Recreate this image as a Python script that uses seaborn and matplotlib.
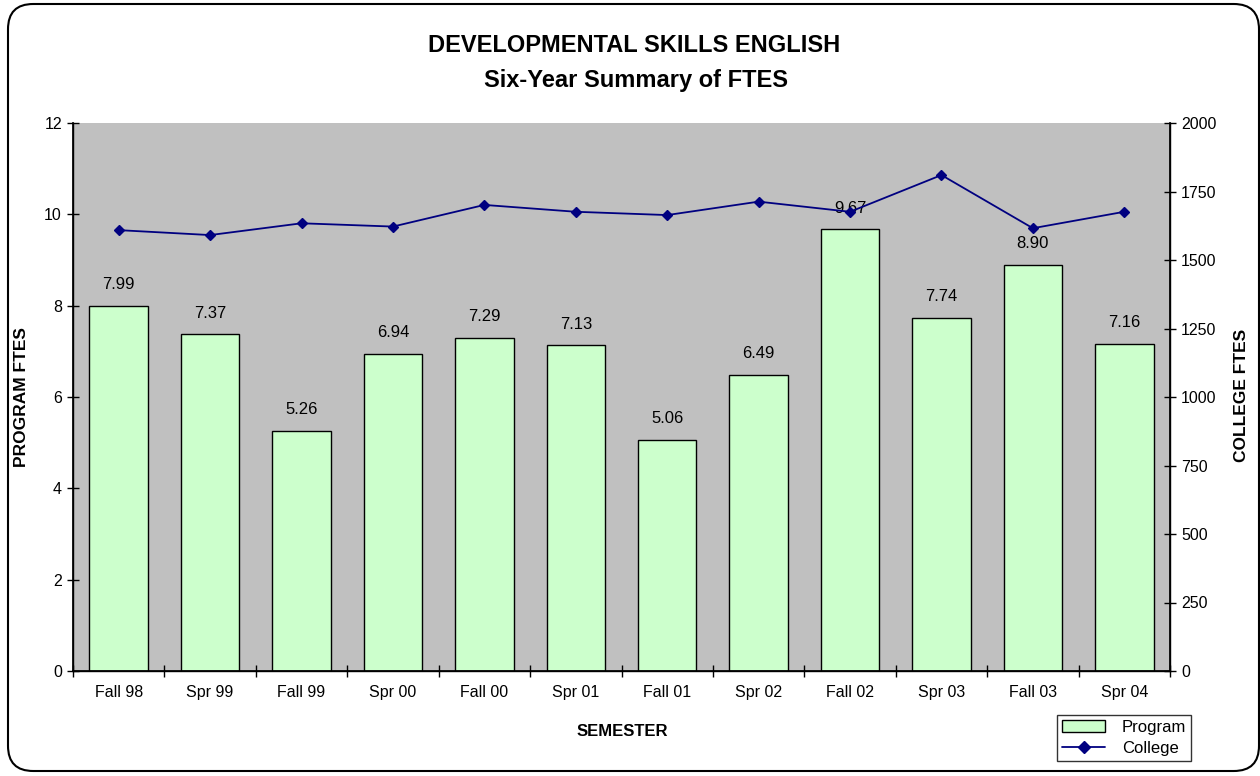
import matplotlib
matplotlib.use("Agg")
import matplotlib.pyplot as plt
import seaborn as sns
import numpy as np
from matplotlib.patches import FancyBboxPatch, Patch
from matplotlib.lines import Line2D

semesters = ["Fall 98", "Spr 99", "Fall 99", "Spr 00", "Fall 00", "Spr 01",
             "Fall 01", "Spr 02", "Fall 02", "Spr 03", "Fall 03", "Spr 04"]
program_ftes = [7.99, 7.37, 5.26, 6.94, 7.29, 7.13, 5.06, 6.49, 9.67, 7.74, 8.90, 7.16]
college_ftes = [1609, 1591, 1634, 1622, 1701, 1676, 1664, 1713, 1676, 1810, 1616, 1676]
left_ticks = [0, 2, 4, 6, 8, 10, 12]
right_ticks = [0, 250, 500, 750, 1000, 1250, 1500, 1750, 2000]

sns.set_theme(style="white")
plt.rcParams['font.family'] = ['Liberation Sans', 'DejaVu Sans']
plt.rcParams['text.color'] = 'black'
plt.rcParams['xtick.color'] = 'black'
plt.rcParams['ytick.color'] = 'black'
plt.rcParams['axes.labelcolor'] = 'black'

W, H = 1260, 776
fig = plt.figure(figsize=(W / 100, H / 100), dpi=100)

# rounded outer frame
frame = FancyBboxPatch((8 / W, 5 / H), (1251 / W), (767 / H),
                       boxstyle="round,pad=0,rounding_size=0.02",
                       transform=fig.transFigure, facecolor="none",
                       edgecolor="black", linewidth=1.5, mutation_aspect=W / H,
                       zorder=10)
fig.patches.append(frame)

ax = fig.add_axes([73 / W, 1 - 671 / H, (1170 - 73) / W, (671 - 123) / H])
ax.set_facecolor("#C0C0C0")

sns.barplot(x=semesters, y=program_ftes, ax=ax, color="#CCFFCC",
            edgecolor="black", linewidth=1.0, width=0.64, saturation=1)
for cont in ax.containers:
    ax.bar_label(cont, fmt="%.2f", padding=10, fontsize=12, color="black")

ax.set_ylim(0, 12)
ax.set_xlim(-0.5, len(semesters) - 0.5)
ax.set_yticks(left_ticks)
ax.set_yticklabels([str(t) for t in left_ticks], fontsize=11.5)
ax.set_xticks(range(len(semesters)))
ax.set_xticklabels(semesters, fontsize=11.5)
ax.tick_params(axis="x", which="major", length=0, pad=10)
ax.set_xticks(np.arange(-0.5, len(semesters), 1.0), minor=True)
ax.tick_params(axis="x", which="minor", length=8, direction="inout", color="black", width=1, bottom=True)
ax.tick_params(axis="y", length=8, direction="inout", color="black", width=1, left=True, pad=4)
ax.set_xlabel("")
ax.set_ylabel("")
for s in ["left", "bottom", "right", "top"]:
    ax.spines[s].set_color("black")
ax.spines["top"].set_visible(False)
ax.spines["left"].set_linewidth(1.0)
ax.spines["bottom"].set_linewidth(1.0)

ax2 = ax.twinx()
sns.pointplot(x=semesters, y=college_ftes, ax=ax2, color="#000080",
              markers="D", markersize=5.5, linewidth=1.3, errorbar=None)
ax2.set_ylim(0, 2000)
ax2.set_xlim(-0.5, len(semesters) - 0.5)
ax2.set_yticks(right_ticks)
ax2.set_yticklabels([str(t) for t in right_ticks], fontsize=11.5)
ax2.tick_params(axis="y", length=8, direction="inout", color="black", width=1, right=True, pad=4)
ax2.set_ylabel("")
ax2.set_xlabel("")
for s in ["left", "bottom", "right", "top"]:
    ax2.spines[s].set_color("black")
ax2.spines["top"].set_visible(False)
ax2.spines["right"].set_linewidth(1.0)

fig.text(634 / W, 1 - 46 / H, "DEVELOPMENTAL SKILLS ENGLISH", ha="center", va="center",
         fontsize=17, fontweight="bold")
fig.text(636 / W, 1 - 80 / H, "Six-Year Summary of FTES", ha="center", va="center",
         fontsize=17, fontweight="bold")
fig.text(622 / W, 1 - 731 / H, "SEMESTER", ha="center", va="center",
         fontsize=12, fontweight="bold")
fig.text(22 / W, 1 - 397 / H, "PROGRAM FTES", ha="center", va="center",
         fontsize=12.5, fontweight="bold", rotation=90)
fig.text(1241 / W, 1 - 395 / H, "COLLEGE FTES", ha="center", va="center",
         fontsize=12.5, fontweight="bold", rotation=90)

handles = [Patch(facecolor="#CCFFCC", edgecolor="black", linewidth=1.0),
           Line2D([0], [0], color="#000080", marker="D", markersize=6, linewidth=1.3)]
leg = fig.legend(handles, ["Program", "College"], loc="upper left",
                 bbox_to_anchor=(1057 / W, 1 - 715 / H), fontsize=12,
                 frameon=True, fancybox=False, edgecolor="black",
                 borderpad=0.3, labelspacing=0.35, handlelength=2.6,
                 handletextpad=1.0, borderaxespad=0)
leg.get_frame().set_linewidth(1.0)

fig.savefig("out.png", dpi=100)
